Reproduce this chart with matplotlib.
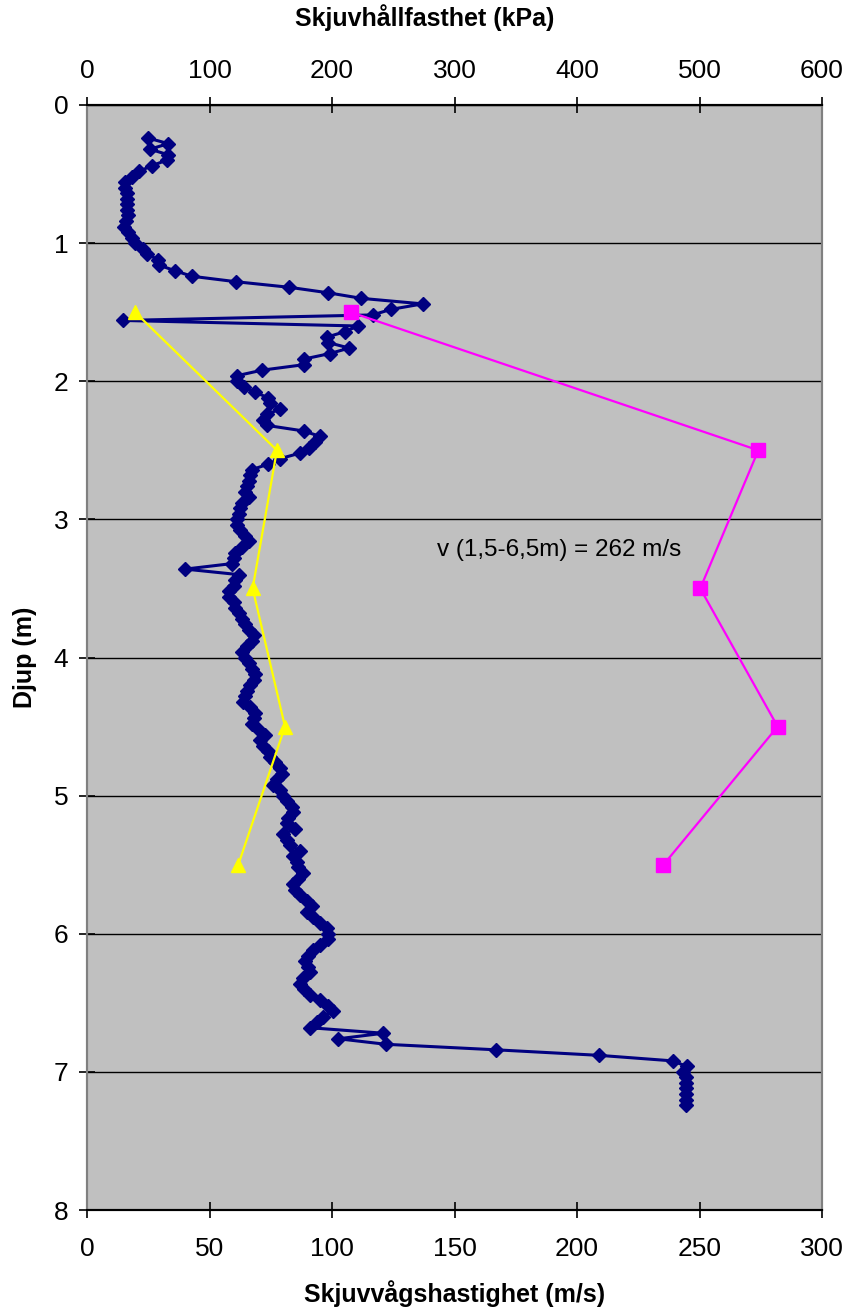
import matplotlib
matplotlib.use('Agg')
import matplotlib.pyplot as plt

plt.rcParams['font.family'] = ['Liberation Sans', 'DejaVu Sans']

# shear wave velocity profile (m/s) vs depth (m)
depth = [
    0.24, 0.28, 0.32, 0.36, 0.40, 0.44, 0.48, 0.52, 0.56, 0.60,
    0.64, 0.68, 0.72, 0.76, 0.80, 0.84, 0.88, 0.92, 0.96, 1.00,
    1.04, 1.08, 1.12, 1.16, 1.20, 1.24, 1.28, 1.32, 1.36, 1.40,
    1.44, 1.48, 1.52, 1.56, 1.60, 1.64, 1.68, 1.72, 1.76, 1.80,
    1.84, 1.88, 1.92, 1.96, 2.00, 2.04, 2.08, 2.12, 2.16, 2.20,
    2.24, 2.28, 2.32, 2.36, 2.40, 2.44, 2.48, 2.52, 2.56, 2.60,
    2.64, 2.68, 2.72, 2.76, 2.80, 2.84, 2.88, 2.92, 2.96, 3.00,
    3.04, 3.08, 3.12, 3.16, 3.20, 3.24, 3.28, 3.32, 3.36, 3.40,
    3.44, 3.48, 3.52, 3.56, 3.60, 3.64, 3.68, 3.72, 3.76, 3.80,
    3.84, 3.88, 3.92, 3.96, 4.00, 4.04, 4.08, 4.12, 4.16, 4.20,
    4.24, 4.28, 4.32, 4.36, 4.40, 4.44, 4.48, 4.52, 4.56, 4.60,
    4.64, 4.68, 4.72, 4.76, 4.80, 4.84, 4.88, 4.92, 4.96, 5.00,
    5.04, 5.08, 5.12, 5.16, 5.20, 5.24, 5.28, 5.32, 5.36, 5.40,
    5.44, 5.48, 5.52, 5.56, 5.60, 5.64, 5.68, 5.72, 5.76, 5.80,
    5.84, 5.88, 5.92, 5.96, 6.00, 6.04, 6.08, 6.12, 6.16, 6.20,
    6.24, 6.28, 6.32, 6.36, 6.40, 6.44, 6.48, 6.52, 6.56, 6.60,
    6.64, 6.68, 6.72, 6.76, 6.80, 6.84, 6.88, 6.92, 6.96, 7.00,
    7.04, 7.08, 7.12, 7.16, 7.20, 7.24,
]
vs = [
    25.0, 33.2, 25.7, 33.0, 32.5, 26.4, 21.4, 18.2, 15.5, 15.5,
    16.2, 16.2, 16.2, 16.2, 16.9, 15.9, 15.1, 16.9, 18.2, 19.6,
    23.0, 24.4, 29.1, 29.5, 35.9, 42.8, 61.0, 82.6, 98.5, 112.0,
    137.0, 124.0, 116.6, 14.8, 110.5, 105.5, 98.0, 98.5, 107.0, 99.0,
    88.4, 88.6, 71.4, 61.2, 61.2, 64.0, 68.6, 74.0, 74.5, 78.9,
    73.5, 72.0, 73.5, 88.4, 95.2, 93.0, 90.5, 87.0, 78.9, 74.0,
    67.3, 66.7, 66.0, 65.3, 64.6, 66.0, 63.3, 62.6, 61.9, 61.2,
    61.2, 62.6, 64.6, 66.0, 63.3, 60.5, 59.9, 59.2, 40.1, 61.9,
    60.5, 59.9, 57.8, 57.8, 59.9, 60.5, 61.9, 63.3, 64.6, 66.0,
    68.0, 67.3, 65.3, 63.3, 64.6, 66.0, 67.3, 68.6, 68.0, 66.7,
    65.3, 64.5, 63.8, 66.5, 68.6, 68.0, 67.2, 69.9, 72.7, 70.6,
    71.9, 74.0, 74.7, 76.7, 78.8, 79.5, 77.4, 76.0, 78.8, 80.1,
    81.5, 83.5, 84.2, 82.2, 81.5, 84.9, 80.0, 81.5, 82.9, 86.9,
    84.2, 85.6, 86.2, 88.3, 86.2, 84.2, 84.9, 86.9, 89.7, 91.7,
    89.7, 92.4, 95.1, 97.8, 98.5, 98.5, 95.1, 92.4, 90.4, 89.0,
    90.4, 91.0, 88.0, 87.0, 88.5, 91.0, 95.0, 98.5, 100.5, 96.5,
    94.0, 91.0, 121.0, 102.6, 122.0, 167.0, 209.0, 239.0, 244.8, 243.3,
    244.5, 244.5, 244.5, 244.5, 244.5, 244.5,
]

# interval values
depth_int = [1.5, 2.5, 3.5, 4.5, 5.5]
vs_int = [107.6, 274.0, 250.3, 281.9, 235.3]      # m/s (bottom axis)
tau = [39.2, 155.0, 135.2, 161.6, 123.5]          # kPa (top axis)

fig = plt.figure(figsize=(8.49, 13.12), dpi=100)
ax = fig.add_axes([0.1025, 0.0777, 0.8657, 0.8423])
ax.set_facecolor('#C0C0C0')

ax.plot(vs, depth, color='#000080', lw=2.2, marker='D', ms=7.5, zorder=3)
ax.plot(vs_int, depth_int, color='#FF00FF', lw=1.6, marker='s', ms=10, zorder=4)

ax.set_xlim(0, 300)
ax.set_ylim(8, 0)
ax.set_xticks(range(0, 301, 50))
ax.set_yticks(range(0, 9))
ax.yaxis.grid(True, color='black', lw=1)
ax.set_axisbelow(True)
ax.tick_params(labelsize=19, direction='inout', length=11, width=1.2, pad=14)
ax.tick_params(axis='y', pad=8)
ax.set_xlabel('Skjuvvågshastighet (m/s)', fontsize=18, fontweight='bold', labelpad=14)
ax.set_ylabel('Djup (m)', fontsize=18, fontweight='bold', labelpad=12)

ax2 = ax.twiny()
ax2.plot(tau, depth_int, color='#FFFF00', lw=1.6, marker='^', ms=10, zorder=4)
ax2.set_xlim(0, 600)
ax2.set_xticks(range(0, 601, 100))
ax2.tick_params(labelsize=19, direction='inout', length=11, width=1.2, pad=10)
ax2.set_xlabel('Skjuvhållfasthet (kPa)', fontsize=18, fontweight='bold', labelpad=24)
ax2.xaxis.label.set_x(0.46)

for a in (ax, ax2):
    for side in ('left', 'right'):
        a.spines[side].set_color('#808080')
        a.spines[side].set_linewidth(1.5)
    for side in ('top', 'bottom'):
        a.spines[side].set_color('black')
        a.spines[side].set_linewidth(1.5)

ax.text(143, 3.22, 'v (1,5-6,5m) = 262 m/s', fontsize=17.5, va='center', ha='left')

fig.savefig('out.png', dpi=100)
